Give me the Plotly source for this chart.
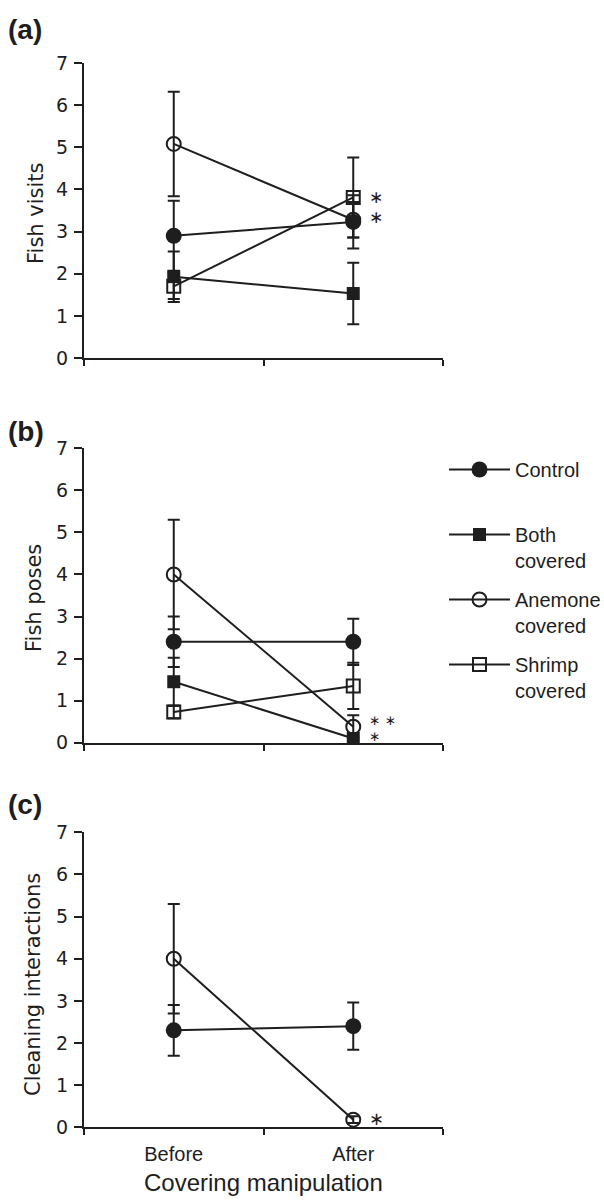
import plotly.graph_objects as go

# ---------------- data ----------------
categories = ["Before", "After"]
groups = ["Control", "Both covered", "Anemone covered", "Shrimp covered"]
legend_text = ["Control<br>\u00a0", "Both<br>covered", "Anemone<br>covered", "Shrimp<br>covered"]

# (a) Fish visits
visits_control = [2.9, 3.23]
visits_control_err = [0.83, 0.63]
visits_both = [1.93, 1.53]
visits_both_err = [0.6, 0.73]
visits_anemone = [5.08, 3.28]
visits_anemone_err = [1.24, 0.42]
visits_shrimp = [1.7, 3.81]
visits_shrimp_err = [0.3, 0.95]

# (b) Fish poses
poses_control = [2.4, 2.4]
poses_control_err = [0.6, 0.55]
poses_both = [1.45, 0.1]
poses_both_err = [0.57, 0.05]
poses_anemone = [4.0, 0.38]
poses_anemone_err = [1.3, 0.27]
poses_shrimp = [0.73, 1.35]
poses_shrimp_err = [0.15, 0.55]

# (c) Cleaning interactions
clean_control = [2.3, 2.4]
clean_control_err = [0.6, 0.56]
clean_anemone = [4.0, 0.18]
clean_anemone_err = [1.3, 0.08]

# significance marks (stacked beside the "After" points, top to bottom)
sig_a_y = [3.78, 3.3]
sig_a_txt = ["\u2217", "\u2217"]
sig_b_y = [0.49, 0.11]
sig_b_txt = ["\u2217 \u2217", "\u2217"]
sig_c_y = [0.17]
sig_c_txt = ["\u2217"]

y_ticks = [0, 1, 2, 3, 4, 5, 6, 7]

# ---------------- style ----------------
W, H = 604, 1204
OFF = 0  # page body margin removed below
INK = "#1e1e1e"
TICK_FONT = dict(family="DejaVu Sans", size=19, color=INK)
TITLE_FONT = dict(family="DejaVu Sans", size=21, color=INK)
SANS = "Liberation Sans, Arial"
PX_PER_UNIT = 295 / 7

marker_style = {
    "Control": dict(symbol="circle", size=16, color=INK, line=dict(width=0)),
    "Both covered": dict(symbol="square", size=13, color=INK, line=dict(width=0)),
    "Anemone covered": dict(symbol="circle-open", size=14, color=INK, line=dict(width=2, color=INK)),
    "Shrimp covered": dict(symbol="square-open", size=13, color=INK, line=dict(width=2, color=INK)),
}
rank = {g: i for i, g in enumerate(groups)}
ltext = dict(zip(groups, legend_text))


def xp(px):
    return (px - OFF) / W


def yp(px):
    return 1 - (px - OFF) / H


fig = go.Figure()


def add_series(name, vals, errs, axis_n, show_legend):
    fig.add_trace(go.Scatter(
        x=categories, y=vals,
        mode="lines+markers",
        name=ltext[name],
        legendgroup=name,
        legendrank=rank[name],
        showlegend=show_legend,
        line=dict(color=INK, width=2),
        marker=marker_style[name],
        error_y=dict(type="data", array=errs, visible=True, thickness=2, width=6, color=INK),
        cliponaxis=False,
        xaxis="x" if axis_n == 1 else f"x{axis_n}",
        yaxis="y" if axis_n == 1 else f"y{axis_n}",
        hoverinfo="skip",
    ))


# drawing order chosen so markers overlap as in the reference
add_series("Anemone covered", visits_anemone, visits_anemone_err, 1, False)
add_series("Control", visits_control, visits_control_err, 1, False)
add_series("Shrimp covered", visits_shrimp, visits_shrimp_err, 1, False)
add_series("Both covered", visits_both, visits_both_err, 1, False)

add_series("Anemone covered", poses_anemone, poses_anemone_err, 2, True)
add_series("Control", poses_control, poses_control_err, 2, True)
add_series("Shrimp covered", poses_shrimp, poses_shrimp_err, 2, True)
add_series("Both covered", poses_both, poses_both_err, 2, True)

add_series("Anemone covered", clean_anemone, clean_anemone_err, 3, False)
add_series("Control", clean_control, clean_control_err, 3, False)

x_dom = [xp(84), xp(443)]
y_doms = [
    [yp(358), yp(63)],
    [yp(742.7), yp(448.3)],
    [yp(1127.3), yp(832.3)],
]

layout = dict(
    width=W, height=H,
    margin=dict(l=0, r=0, t=0, b=0, pad=0, autoexpand=False),
    paper_bgcolor="white", plot_bgcolor="white",
    showlegend=True,
    legend=dict(
        x=xp(444), y=yp(450), xanchor="left", yanchor="top",
        font=dict(family=SANS, size=20, color=INK),
        valign="top", itemwidth=61, tracegroupgap=10,
        bgcolor="rgba(0,0,0,0)", traceorder="grouped",
    ),
)

for i in range(3):
    n = "" if i == 0 else str(i + 1)
    layout["xaxis" + n] = dict(
        domain=x_dom, anchor="y" + n, type="category",
        categoryorder="array", categoryarray=categories,
        range=[-0.5, 1.5], tickson="boundaries",
        showline=True, linewidth=2, linecolor=INK,
        ticks="outside", ticklen=6, tickwidth=2, tickcolor=INK,
        showticklabels=(i == 2), ticklabelstandoff=8,
        tickfont=dict(family=SANS, size=20, color=INK),
        showgrid=False, zeroline=False, fixedrange=True, automargin=False,
    )
    layout["yaxis" + n] = dict(
        domain=y_doms[i], anchor="x" + n,
        range=[0, 7], tickvals=y_ticks,
        showline=True, linewidth=2, linecolor=INK,
        ticks="outside", ticklen=8, tickwidth=2, tickcolor=INK,
        tickfont=TICK_FONT, ticklabelstandoff=2,
        showgrid=False, zeroline=False, fixedrange=True, automargin=False,
    )

fig.update_layout(**layout)

# panel letters
for lab, ypx in [("(a)", 30), ("(b)", 431), ("(c)", 804)]:
    fig.add_annotation(text=f"<b>{lab}</b>", x=xp(6), y=yp(ypx), xref="paper", yref="paper",
                       xanchor="left", yanchor="middle", showarrow=False,
                       font=dict(family=SANS, size=28, color=INK))

# y-axis titles
for txt, xpx, ypx in [("Fish visits", 36, 213), ("Fish poses", 34, 598), ("Cleaning interactions", 33, 985)]:
    fig.add_annotation(text=txt, x=xp(xpx), y=yp(ypx), xref="paper", yref="paper",
                       xanchor="center", yanchor="middle", textangle=-90, showarrow=False,
                       font=TITLE_FONT)

# x-axis title
fig.add_annotation(text="Covering manipulation", x=xp(263), y=yp(1182), xref="paper", yref="paper",
                   xanchor="center", yanchor="middle", showarrow=False,
                   font=dict(family=SANS, size=24, color=INK))

# significance asterisks: one stacked text per panel; glyph size fitted to the line gap
for axis_n, ys, txts in [(1, sig_a_y, sig_a_txt), (2, sig_b_y, sig_b_txt), (3, sig_c_y, sig_c_txt)]:
    n = "" if axis_n == 1 else str(axis_n)
    if len(ys) > 1:
        gap = (ys[0] - ys[-1]) / (len(ys) - 1) * PX_PER_UNIT
        base = gap / 1.3
        glyph = min(18, gap / 1.18)
    else:
        base = 18
        glyph = 18
    text = "<br>".join(f"<span style='font-size:{glyph:.1f}px'>{t}</span>" for t in txts)
    fig.add_annotation(text=text, x=1, y=sum(ys) / len(ys), xref="x" + n, yref="y" + n,
                       xanchor="left", yanchor="middle", align="left", xshift=14, yshift=2,
                       showarrow=False,
                       font=dict(family="DejaVu Sans", size=base, color=INK))

fig.write_html("out.html",
               config={"displayModeBar": False, "staticPlot": True},
               post_script="document.body.style.margin='0';document.body.style.overflow='hidden';")
